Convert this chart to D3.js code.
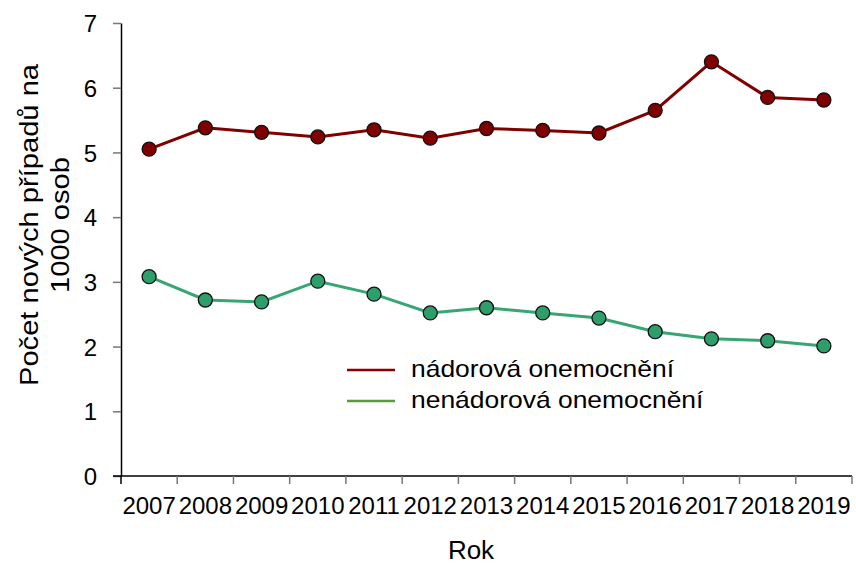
<!DOCTYPE html>
<meta charset="utf-8">
<style>
body { margin: 0; background: #fff; }
text { font-family: "Liberation Sans", Arial, sans-serif; fill: #000; }
</style>
<svg width="856" height="564"></svg>
<script src="https://d3js.org/d3.v7.min.js"></script>
<script>

var years = ["2007","2008","2009","2010","2011","2012","2013","2014","2015","2016","2017","2018","2019"];
var nadorova = [5.05, 5.38, 5.31, 5.24, 5.35, 5.22, 5.37, 5.34, 5.30, 5.65, 6.40, 5.85, 5.81];
var nenadorova = [3.08, 2.72, 2.69, 3.01, 2.81, 2.52, 2.60, 2.52, 2.44, 2.23, 2.12, 2.09, 2.01];
var yTicks = [0, 1, 2, 3, 4, 5, 6, 7];

var svg = d3.select("svg");
var margin = {left: 121, right: 4, top: 23, bottom: 88};
var width = 856, height = 564;

var x = d3.scaleBand()
    .domain(years)
    .range([margin.left, width - margin.right]);

var y = d3.scaleLinear()
    .domain([0, 7])
    .range([height - margin.bottom, margin.top]);

// y axis
var yAxis = svg.append("g")
    .attr("transform", "translate(" + margin.left + ",0)")
    .call(d3.axisLeft(y).tickValues(yTicks).tickFormat(d3.format("d"))
      .tickSize(8).tickPadding(16).tickSizeOuter(0));
yAxis.select(".domain").attr("stroke", "#000").attr("stroke-width", 1.5);
yAxis.selectAll(".tick line").attr("stroke", "#777").attr("stroke-width", 1.5);
yAxis.selectAll(".tick text")
    .attr("dy", "0.36em")
    .style("font-size", "24px")
    .style("font-family", "Liberation Sans, Arial, sans-serif");

// x axis - ticks between categories, like Excel
var xg = svg.append("g")
    .attr("transform", "translate(0," + y(0) + ")");
xg.append("line")
    .attr("x1", x.range()[0] - 8).attr("x2", x.range()[1])
    .attr("stroke", "#000").attr("stroke-width", 1.5);
var bounds = years.map(function(d) { return x(d); }).concat([x.range()[1]]);
xg.selectAll(".tk")
  .data(bounds)
  .enter().append("line")
    .attr("x1", function(d) { return d; })
    .attr("x2", function(d) { return d; })
    .attr("y1", 0).attr("y2", 8)
    .attr("stroke", function(d, i) { return i == 0 ? "#000" : "#777"; })
    .attr("stroke-width", 1.5);
xg.selectAll(".lbl")
  .data(years)
  .enter().append("text")
    .attr("x", function(d) { return x(d) + x.bandwidth() / 2; })
    .attr("y", 38)
    .attr("text-anchor", "middle")
    .style("font-size", "24px")
    .text(function(d) { return d; });

// titles
svg.append("text")
    .attr("x", 471)
    .attr("y", 559)
    .attr("text-anchor", "middle")
    .style("font-size", "26px")
    .text("Rok");

var yt = svg.append("text")
    .attr("transform", "translate(38,225) rotate(-90) scale(1.12,1)")
    .attr("text-anchor", "middle")
    .style("font-size", "26px");
yt.append("tspan").attr("x", 0).attr("y", 0).text("Počet nových případů na");
yt.append("tspan").attr("x", 0).attr("y", 31).text("1000 osob");

// series
var series = [
  {name: "nádorová onemocnění", values: nadorova, line: "#800000", fill: "#800000", legend: "#8b0000"},
  {name: "nenádorová onemocnění", values: nenadorova, line: "#38a672", fill: "#2e9e6a", legend: "#5a9a3c"}
];

var line = d3.line()
    .x(function(d, i) { return x(years[i]) + x.bandwidth() / 2; })
    .y(function(d) { return y(d); });

series.forEach(function(s) {
  svg.append("path")
      .datum(s.values)
      .attr("fill", "none")
      .attr("stroke", s.line)
      .attr("stroke-width", 3)
      .attr("d", line);
  svg.selectAll(null)
    .data(s.values)
    .enter().append("circle")
      .attr("cx", function(d, i) { return x(years[i]) + x.bandwidth() / 2; })
      .attr("cy", function(d) { return y(d); })
      .attr("r", 7)
      .attr("fill", s.fill)
      .attr("stroke", "#111")
      .attr("stroke-width", 1.3);
});

// legend
var lg = svg.append("g").attr("transform", "translate(347,370)");
series.forEach(function(s, i) {
  lg.append("line")
      .attr("x1", 0).attr("x2", 48)
      .attr("y1", i * 31).attr("y2", i * 31)
      .attr("stroke", s.legend)
      .attr("stroke-width", 2.5);
  lg.append("text")
      .attr("transform", "translate(64," + (i * 31 + 7) + ") scale(1.15,1)")
      .style("font-size", "23px")
      .text(s.name);
});

</script>
